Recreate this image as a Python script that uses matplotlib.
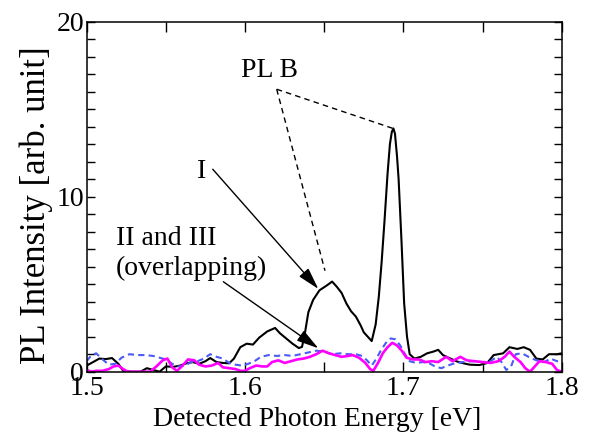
import numpy as np
import matplotlib.pyplot as plt
from matplotlib.ticker import MultipleLocator, FixedLocator

plt.rcParams['font.family'] = ['Liberation Serif', 'DejaVu Serif']

# --- data ---
energy_I = [1.500, 1.504, 1.508, 1.512, 1.516, 1.520, 1.523, 1.528, 1.534, 1.538,
            1.542, 1.546, 1.550, 1.555, 1.559, 1.563, 1.567, 1.571, 1.575, 1.578,
            1.582, 1.586, 1.590, 1.593, 1.597, 1.601, 1.605, 1.609, 1.614, 1.619,
            1.622, 1.626, 1.630, 1.634, 1.636, 1.638, 1.640, 1.643, 1.647, 1.652,
            1.655, 1.658, 1.661, 1.664, 1.667, 1.670, 1.673, 1.675, 1.677, 1.680,
            1.6825, 1.6845, 1.6863, 1.688, 1.690, 1.6915, 1.6927, 1.6937, 1.6947, 1.696,
            1.697, 1.6988, 1.7005, 1.7023, 1.704, 1.707, 1.711, 1.715, 1.719, 1.722,
            1.725, 1.729, 1.734, 1.738, 1.742, 1.748, 1.753, 1.757, 1.763, 1.767,
            1.772, 1.776, 1.780, 1.784, 1.788, 1.792, 1.797, 1.800]
pl_I = [0.35, 0.55, 0.75, 0.72, 0.78, 0.45, 0.05, 0.0, 0.0, 0.2,
        0.1, 0.0, 0.3, 0.28, 0.35, 0.48, 0.55, 0.45, 0.6, 0.78,
        0.55, 0.5, 0.48, 0.75, 1.4, 1.6, 1.55, 1.95, 2.3, 2.5,
        2.2, 1.9, 1.6, 1.35, 1.42, 2.3, 3.4, 4.1, 4.65, 4.95,
        5.15, 4.85, 4.5, 3.9, 3.45, 3.15, 2.65, 2.25, 2.05, 1.75,
        2.7, 4.3, 6.3, 8.5, 11.3, 13.0, 13.7, 13.9, 13.6, 12.3,
        11.0, 7.5, 3.9, 2.0, 1.0, 0.75, 0.85, 1.05, 1.15, 1.25,
        0.95, 0.78, 0.58, 0.48, 0.4, 0.38, 0.5, 0.95, 1.05, 1.4,
        1.3, 1.4, 1.25, 0.75, 0.7, 1.0, 1.0, 1.05]

energy_II = [1.500, 1.503, 1.506, 1.510, 1.514, 1.518, 1.522, 1.527, 1.532, 1.537,
             1.542, 1.546, 1.550, 1.554, 1.558, 1.562, 1.566, 1.570, 1.574, 1.578,
             1.582, 1.586, 1.590, 1.594, 1.598, 1.602, 1.606, 1.610, 1.615, 1.620,
             1.625, 1.630, 1.635, 1.640, 1.645, 1.650, 1.655, 1.660, 1.665, 1.670,
             1.674, 1.677, 1.680, 1.683, 1.686, 1.689, 1.692, 1.695, 1.698, 1.701,
             1.704, 1.708, 1.712, 1.716, 1.720, 1.724, 1.728, 1.733, 1.738, 1.744,
             1.750, 1.755, 1.759, 1.762, 1.765, 1.768, 1.771, 1.775, 1.779, 1.784,
             1.789, 1.793, 1.797, 1.800]
pl_II = [0.6, 0.95, 1.05, 0.7, 0.4, 0.45, 0.8, 1.0, 0.95, 0.95,
         0.9, 0.8, 0.7, 0.45, 0.3, 0.35, 0.55, 0.6, 0.75, 1.0,
         0.85, 0.75, 0.5, 0.4, 0.35, 0.45, 0.6, 0.85, 0.95, 0.9,
         0.95, 0.9, 1.0, 1.1, 1.2, 1.15, 1.0, 1.05, 1.0, 1.0,
         0.9, 0.65, 0.35, 0.75, 1.25, 1.65, 1.9, 1.85, 1.5, 1.0,
         0.6, 0.5, 0.55, 0.5, 0.3, 0.2, 0.35, 0.5, 0.55, 0.6,
         0.55, 0.6, 0.85, 0.55, 0.1, 0.3, 1.0, 1.05, 0.85, 0.65,
         0.55, 0.75, 0.6, 0.6]

energy_III = [1.500, 1.503, 1.506, 1.510, 1.514, 1.517, 1.520, 1.523, 1.526, 1.540,
              1.544, 1.548, 1.551, 1.554, 1.557, 1.560, 1.564, 1.568, 1.571, 1.575,
              1.579, 1.583, 1.586, 1.590, 1.594, 1.597, 1.600, 1.603, 1.607, 1.611,
              1.614, 1.617, 1.621, 1.625, 1.629, 1.633, 1.637, 1.641, 1.645, 1.649,
              1.653, 1.657, 1.661, 1.665, 1.668, 1.672, 1.676, 1.679, 1.681, 1.684,
              1.687, 1.690, 1.693, 1.696, 1.699, 1.702, 1.706, 1.710, 1.714, 1.718,
              1.722, 1.727, 1.731, 1.736, 1.740, 1.745, 1.750, 1.755, 1.760, 1.764,
              1.767, 1.770, 1.774, 1.777, 1.780, 1.783, 1.786, 1.790, 1.794, 1.797,
              1.800]
pl_III = [0.1, 0.0, 0.05, 0.05, 0.15, 0.3, 0.35, 0.15, 0.0, 0.0,
          0.3, 0.65, 0.75, 0.25, 0.05, 0.3, 0.7, 0.65, 0.4, 0.3,
          0.35, 0.5, 0.25, 0.2, 0.15, 0.05, 0.05, 0.2, 0.35, 0.3,
          0.3, 0.55, 0.65, 0.5, 0.6, 0.7, 0.75, 0.85, 1.0, 1.2,
          1.05, 0.95, 0.85, 0.9, 0.95, 0.8, 0.5, 0.15, 0.05, 0.5,
          1.05, 1.4, 1.65, 1.5, 1.2, 0.8, 0.7, 0.7, 0.55, 0.6,
          0.55, 0.85, 0.6, 0.85, 0.65, 0.6, 0.55, 0.5, 0.6, 0.85,
          1.15, 0.85, 0.55, 0.2, 0.0, 0.3, 0.6, 0.55, 0.45, 0.1,
          0.0]

x_ticks = [1.5, 1.6, 1.7, 1.8]
x_labels = ['1.5', '1.6', '1.7', '1.8']
y_ticks = [0, 10, 20]

fig = plt.figure(figsize=(6.05, 4.43), dpi=100)
ax = fig.add_axes([86.7 / 605, 1 - 371.7 / 443, 475 / 605, 350 / 443])

ax.plot(energy_I, pl_I, color='black', lw=1.5)
ax.plot(energy_II, pl_II, color='#4a5cf5', lw=1.5, ls=(0, (3, 2)))
ax.plot(energy_III, pl_III, color='#ff00ff', lw=1.9)

ax.set_xlim(1.5, 1.8)
ax.set_ylim(0, 20)
ax.xaxis.set_major_locator(FixedLocator(x_ticks))
ax.set_xticklabels(x_labels)
ax.xaxis.set_minor_locator(MultipleLocator(0.05))
ax.yaxis.set_major_locator(FixedLocator(y_ticks))
ax.yaxis.set_minor_locator(MultipleLocator(1))
ax.tick_params(which='both', direction='in', top=True, right=True,
               labelsize=20, width=1)
ax.tick_params(axis='x', which='both', length=7, pad=3)
ax.tick_params(axis='y', which='both', length=6, pad=2)
for s in ax.spines.values():
    s.set_linewidth(1.1)

fig.text(317 / 605, 1 - 419 / 443, 'Detected Photon Energy [eV]',
         ha='center', va='center', fontsize=20)
fig.text(36 / 605, 1 - 205 / 443, 'PL Intensity [arb. unit]',
         ha='center', va='center', rotation=90, fontsize=25)

# annotations
ax.text(1.6155, 16.82, 'PL B', ha='center', va='baseline', fontsize=20)
ax.plot([1.6200, 1.6935], [16.14, 13.90], color='black', lw=1, ls=(0, (4, 3)))
ax.plot([1.6200, 1.6505], [16.14, 5.77], color='black', lw=1, ls=(0, (4, 3)))

ax.text(1.5723, 11.07, 'I', ha='center', va='baseline', fontsize=20)
ax.annotate('', xy=(1.6463, 4.73), xytext=(1.5796, 11.57),
            arrowprops=dict(arrowstyle='-|>,head_length=0.9,head_width=0.25',
                            mutation_scale=15, color='black', lw=1,
                            shrinkA=0, shrinkB=0))

ax.text(1.5186, 7.24, 'II and III', ha='left', va='baseline', fontsize=20)
ax.text(1.5186, 5.53, '(overlapping)', ha='left', va='baseline', fontsize=20)
ax.annotate('', xy=(1.6463, 1.34), xytext=(1.5863, 5.14),
            arrowprops=dict(arrowstyle='-|>,head_length=0.9,head_width=0.25',
                            mutation_scale=15, color='black', lw=1,
                            shrinkA=0, shrinkB=0))

fig.savefig('out.png', dpi=100)
